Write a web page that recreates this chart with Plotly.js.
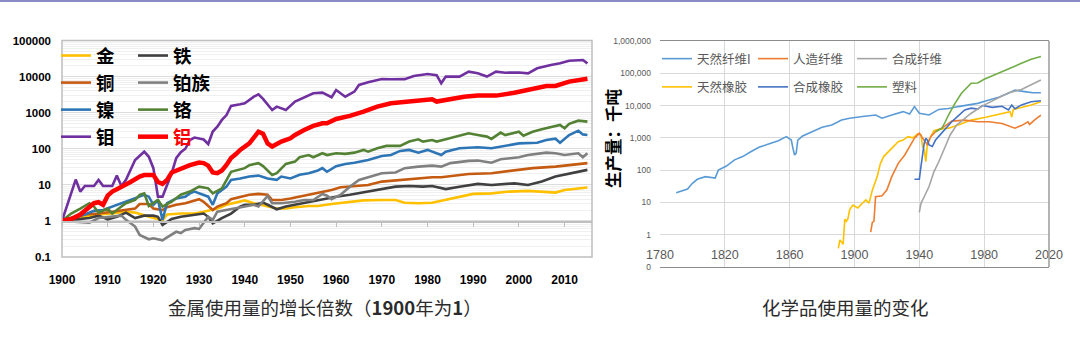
<!DOCTYPE html>
<html>
<head>
<meta charset="utf-8">
<script src="https://cdn.plot.ly/plotly-3.0.1.min.js"></script>
<style>html,body{margin:0;padding:0;background:#fff;}#chart{width:1080px;height:341px;}</style>
</head>
<body>
<div id="chart"></div>
<script>
// ---------- Left chart: metal use growth multiples (1900 = 1) ----------
const goldYears = [1900,1902,1905,1908,1911,1914,1916,1918,1920,1922,1923,1926,1929,1931,1934,1936,1938,1940,1942,1945,1947,1949,1951,1954,1956,1959,1962,1966,1970,1973,1975,1978,1981,1984,1987,1990,1994,1998,2002,2005,2008,2010,2013,2015];
const goldValues = [1,1.2,1.3,1.5,1.6,1.8,1.7,1.4,1.2,1.05,1.5,1.6,1.6,1.8,2.2,2.8,3.2,3.7,3.1,2.5,2.2,2.2,2.4,2.6,2.6,2.95,3.3,3.7,3.8,3.8,3.2,3.1,3.2,3.8,4.5,5.6,5.8,6.5,6.8,6.5,6.1,7.2,8,8.4];

const ironYears = [1900,1903,1906,1908,1910,1912,1914,1916,1918,1920,1921,1922,1924,1926,1929,1931,1932,1933,1935,1937,1939,1940,1942,1944,1945,1947,1949,1951,1953,1955,1956,1958,1960,1963,1967,1970,1973,1976,1979,1981,1984,1987,1991,1994,1999,2002,2005,2008,2010,2013,2015];
const ironValues = [1,1.07,1.2,1.4,1.1,1.3,1.7,1.2,1.4,1.4,1.3,0.77,1.13,1.3,1.5,1.6,1.3,0.86,1.2,1.6,2.5,2.8,2.8,3.2,2.8,2.1,2.5,2.8,3.2,3.6,3.9,4.2,4.7,5.3,6.5,7.6,8.9,9.3,8.9,9.3,7.6,8.9,10.6,9.9,11,9.9,12.3,17,19,23,26];

const copperYears = [1900,1902,1905,1908,1911,1914,1916,1917,1919,1920,1922,1923,1925,1927,1929,1930,1931,1933,1934,1936,1937,1939,1941,1943,1945,1946,1948,1950,1952,1955,1957,1959,1961,1964,1967,1970,1974,1977,1981,1983,1986,1989,1994,1999,2003,2008,2012,2015];
const copperValues = [1,1.2,1.5,1.6,1.8,2.0,2.2,2.95,2.95,2.2,2.0,2.4,2.8,3.1,3.6,4,3.4,2.0,2.5,3.1,4,4.7,5.3,5.6,5.3,3.8,3.8,4.2,4.7,5.6,6.5,7.2,8.6,9.3,9.9,12.3,13.7,14.6,16.2,16.2,17.6,20,21,25,29,32,35.5,40];

const pgmYears = [1900,1904,1906,1908,1910,1913,1914,1916,1917,1919,1920,1922,1923,1925,1926,1927,1929,1930,1932,1933,1934,1936,1938,1940,1942,1943,1945,1946,1948,1951,1953,1955,1957,1958,1959,1961,1963,1965,1967,1970,1973,1975,1978,1981,1983,1985,1989,1991,1994,1996,2000,2002,2006,2008,2010,2013,2014,2015];
const pgmValues = [1,0.96,0.9,1.2,1.3,1.4,1.07,0.7,0.41,0.31,0.33,0.29,0.35,0.5,0.46,0.56,0.63,0.6,1.3,1.07,1.8,2.0,2.2,2.5,2.8,2.5,4.9,3.1,3.1,3.4,3.8,3.8,5.6,5.0,4.0,5.3,8.9,13.7,16.2,21,22,29,32,34,32,40,46,47,41,51,58,67,78,75,67,75,58,75];

const nickelYears = [1900,1902,1905,1907,1909,1911,1913,1914,1916,1918,1919,1920,1921,1922,1923,1925,1927,1928,1929,1932,1933,1934,1936,1937,1939,1941,1943,1945,1947,1948,1950,1952,1954,1956,1957,1958,1960,1962,1964,1967,1970,1972,1974,1976,1978,1980,1983,1984,1987,1991,1994,1997,2000,2004,2006,2008,2009,2011,2013,2014,2015];
const nickelValues = [1,1.2,1.5,1.9,2.0,2.5,3.1,3.4,4.2,5.3,4.7,2.8,3.8,1.07,3.1,4.2,4.7,5.8,6.5,4.7,2.8,5.8,8.9,13.7,15,17,18,15,13.7,17,15,19,21,25,29,23,33,38,41,49,63,67,87,93,78,93,67,83,103,110,103,120,141,147,175,190,147,240,317,250,240];

const chromiumYears = [1900,1902,1904,1906,1907,1908,1910,1911,1913,1914,1916,1917,1918,1919,1921,1922,1924,1926,1928,1930,1932,1933,1935,1936,1937,1940,1941,1943,1944,1946,1947,1949,1951,1952,1954,1955,1956,1957,1958,1960,1962,1964,1966,1967,1969,1971,1974,1976,1978,1979,1981,1982,1984,1986,1989,1991,1993,1994,1996,1997,1999,2000,2001,2003,2005,2008,2009,2010,2011,2013,2015];
const chromiumValues = [1,1.6,2.2,3.1,2.5,1.7,2.2,1.6,2.5,3.1,3.8,5.3,5.8,2.6,3.8,2.5,3.4,5.3,6.5,8.9,8,5.8,8,13.7,23,29,35,40,33,18.7,21,38,44,58,67,58,67,75,67,75,72,78,93,83,103,120,120,158,183,158,175,158,183,217,268,240,217,187,280,240,280,297,230,297,345,410,455,370,490,600,565];

const molyYears = [1900,1903,1904,1905,1907,1908,1909,1911,1912,1913,1914,1916,1918,1919,1920,1921,1922,1924,1925,1926,1927,1928,1929,1931,1932,1933,1934,1935,1936,1937,1939,1940,1942,1943,1944,1945,1946,1947,1949,1951,1953,1955,1957,1958,1959,1960,1962,1964,1965,1967,1970,1972,1975,1977,1980,1982,1983,1984,1987,1989,1991,1993,1995,1997,2000,2002,2004,2007,2009,2011,2013,2014,2015];
const molyValues = [1,14,6.5,9.3,9.3,13.7,9.3,9.3,18,9.3,13.7,49,83,60,29,4.7,4.7,21,55,80,100,175,204,180,135,300,410,630,860,1540,1700,1820,2770,3220,2400,1700,1180,1470,1180,2030,2680,3440,3600,3100,2680,4240,2770,3830,5860,6950,8530,8400,8500,10400,11800,11000,6500,10000,10000,13700,12300,10000,13700,12800,13000,12300,17000,21000,23300,27600,27600,28800,23300];

const aluminumYears = [1900,1902,1904,1906,1907,1908,1909,1910,1911,1912,1914,1915,1917,1918,1920,1921,1922,1923,1924,1926,1928,1930,1931,1932,1933,1934,1935,1936,1937,1938,1939,1941,1942,1943,1944,1945,1946,1948,1950,1951,1953,1955,1957,1958,1960,1963,1966,1969,1972,1975,1978,1981,1982,1985,1988,1991,1995,1999,2002,2006,2008,2011,2015];
const aluminumValues = [1,1.13,1.5,2.3,3.1,3.3,2.8,5,6.5,7.5,10,12,17,18.7,18.7,12,10.6,13.7,22,28,35,41.5,40,34,22,21,25,35.5,55,70,93,141,200,297,260,140,115,158,195,240,330,430,510,510,670,815,1070,1470,1820,1950,2240,2350,2030,2350,2770,2970,2970,3570,4240,5490,5490,7240,8760];

const metalNames = ['金','铁','铜','铂族','镍','铬','钼','铝'];
const leftYTicks = [0.1,1,10,100,1000,10000,100000];
const leftYTickText = ['0.1','1','10','100','1000','10000','100000'];
const leftXTicks = [1900,1910,1920,1930,1940,1950,1960,1970,1980,1990,2000,2010];

// ---------- Right chart: chemical production (thousand tonnes) ----------
const natFiberYears = [1790,1797,1800,1803,1808,1814,1816,1821,1826,1831,1836,1841,1847,1853,1858,1861,1862,1863,1864,1865,1868,1874,1880,1886,1892,1897,1903,1905,1913,1917,1923,1930,1934,1937,1940,1946,1952,1958,1964,1970,1976,1983,1989,1995,1999,2005,2010,2015];
const natFiberValues = [20,26,39,52,63,57,100,134,208,263,372,510,645,810,1090,855,480,295,330,855,1150,1550,2130,2500,3550,4050,4300,4570,5100,4050,5100,6500,5500,9300,5800,5100,7600,8100,9300,10400,11700,14800,18000,24000,30000,27000,25000,25000];

const rayonYears = [1910,1911,1912,1913,1917,1920,1923,1927,1931,1934,1937,1940,1943,1945,1947,1950,1956,1960,1968,1976,1983,1991,1999,2003,2007,2008,2011,2015];
const rayonValues = [1.2,2.4,2.6,15,16,24.5,63,162,295,540,980,1380,855,600,1090,1550,2340,3300,3550,3150,3150,2800,2000,2400,3150,2600,3550,5100];

const synFiberYears = [1940,1941,1943,1944,1946,1949,1952,1956,1959,1963,1967,1972,1979,1987,1995,2003,2009,2015];
const synFiberValues = [4.9,9.4,15,19,31,89,182,540,1230,2500,3700,5800,9800,15400,25000,31600,43500,62000];

const natRubberYears = [1890,1891,1892,1893,1894,1895,1896,1897,1899,1902,1905,1907,1909,1911,1914,1916,1918,1921,1924,1927,1930,1933,1936,1939,1941,1942,1943,1944,1945,1947,1949,1952,1958,1964,1972,1981,1987,1993,1996,1997,1998,2003,2009,2015];
const natRubberValues = [0.38,0.69,0.6,0.5,3,2.6,3.2,5.9,8.3,6.7,9.6,12,9.5,24,63,162,263,372,540,760,855,1090,1000,1320,1250,540,430,183,700,1090,1660,1850,2000,2500,3550,4340,5100,5800,6500,4400,7600,8700,10400,13200];

const synRubberYears = [1937,1940,1941,1943,1944,1945,1946,1948,1950,1952,1954,1957,1960,1964,1968,1972,1976,1979,1985,1991,1995,1997,1999,2003,2009,2015];
const synRubberValues = [52,52,129,680,980,850,600,540,855,1150,1450,2130,3150,4800,7300,8300,7800,10000,8800,9500,7300,10300,8000,10500,13200,14100];

const plasticYears = [1950,1954,1956,1958,1962,1966,1972,1976,1980,1987,1995,2003,2009,2015];
const plasticValues = [1550,2000,3150,5100,11700,24000,49000,50000,65000,93000,142000,204000,271000,330000];

const chemNames = ['天然纤维I','人造纤维','合成纤维','天然橡胶','合成橡胶','塑料'];
const rightYTicks = [0.1,1,10,100,1000,10000,100000,1000000];
const rightYTickText = ['0','1','10','100','1,000','10,000','100,000','1,000,000'];
const rightXTicks = [1780,1820,1860,1900,1940,1980,2020];

// ---------- build ----------
const W = 1080, H = 341;
const px = v => v / W;
const py = v => (H - v) / H;

function metal(name, xs, ys, color, width, legend) {
  return {type:'scatter', mode:'lines', name:name, x:xs, y:ys, xaxis:'x', yaxis:'y',
    line:{color:color, width:width}, legend:legend, hoverinfo:'skip'};
}
function chem(name, xs, ys, color, legend) {
  return {type:'scatter', mode:'lines', name:name, x:xs, y:ys, xaxis:'x2', yaxis:'y2',
    line:{color:color, width:1.6}, legend:legend, legendgroup:name, hoverinfo:'skip'};
}

const traces = [
  metal(metalNames[0], goldYears, goldValues, '#FFC000', 2.6, 'legend'),
  metal(metalNames[1], ironYears, ironValues, '#404040', 2.6, 'legend2'),
  metal(metalNames[2], copperYears, copperValues, '#C55A11', 2.6, 'legend'),
  metal(metalNames[3], pgmYears, pgmValues, '#808080', 2.6, 'legend2'),
  metal(metalNames[4], nickelYears, nickelValues, '#2E75B6', 2.6, 'legend'),
  metal(metalNames[5], chromiumYears, chromiumValues, '#548235', 2.6, 'legend2'),
  metal(metalNames[6], molyYears, molyValues, '#7030A0', 2.6, 'legend'),
  metal('<span style="color:#FF0000">' + metalNames[7] + '</span>', aluminumYears, aluminumValues, '#FF0000', 4.5, 'legend2'),
  chem(chemNames[0], natFiberYears, natFiberValues, '#5B9BD5', 'legend3'),
  chem(chemNames[3], natRubberYears, natRubberValues, '#FFC000', 'legend3'),
  chem(chemNames[1], rayonYears, rayonValues, '#ED7D31', 'legend4'),
  chem(chemNames[4], synRubberYears, synRubberValues, '#4472C4', 'legend4'),
  chem(chemNames[2], synFiberYears, synFiberValues, '#A5A5A5', 'legend5'),
  chem(chemNames[5], plasticYears, plasticValues, '#70AD47', 'legend5')
];

const minorLog = [];
[-1,0,1,2,3,4,5].forEach(e => { for (let k = 2; k <= 9; k++) minorLog.push(k * Math.pow(10, e)); });

const bigLegend = (x) => ({x:x, y:py(37), xanchor:'left', yanchor:'top', bgcolor:'rgba(0,0,0,0)',
  font:{family:'Noto Sans CJK SC', size:18.5, color:'#000000', weight:'bold'}, itemwidth:30, tracegroupgap:0,
  orientation:'v'});
const smallLegend = (x) => ({x:x, y:py(44), xanchor:'left', yanchor:'top', bgcolor:'rgba(0,0,0,0)',
  font:{family:'Noto Sans CJK SC', size:12.5, color:'#595959'}, itemwidth:30, tracegroupgap:9,
  orientation:'v'});

const layout = {
  width: W, height: H,
  margin: {l:0, r:0, t:0, b:0},
  paper_bgcolor: '#ffffff', plot_bgcolor: '#ffffff',
  showlegend: true,
  xaxis: {domain:[px(62), px(592)], range:[1900, 2016], anchor:'free', position: py(221),
    tickmode:'array', tickvals:leftXTicks, ticktext:leftXTicks.map(String),
    ticks:'outside', ticklen:4, tickcolor:'#BFBFBF', showline:true, linecolor:'#BFBFBF', linewidth:1.5,
    showgrid:false, zeroline:false, ticklabelstandoff:43,
    tickfont:{family:'Liberation Sans, Arial', size:12, color:'#000', weight:'bold'}},
  yaxis: {domain:[py(257), py(40.5)], type:'log', range:[-1, 5], anchor:'x',
    tickmode:'array', tickvals:leftYTicks, ticktext:leftYTickText, ticks:'', ticklabelstandoff:10,
    showgrid:true, gridcolor:'#DCDCDC', gridwidth:1, zeroline:false, showline:false,
    minor:{tickmode:'array', tickvals:minorLog, showgrid:true, gridcolor:'#F0F0F0', ticks:''},
    tickfont:{family:'Liberation Sans, Arial', size:11.5, color:'#000', weight:'bold'}},
  xaxis2: {domain:[px(660), px(1049)], range:[1780, 2020], anchor:'y2',
    tickmode:'array', tickvals:rightXTicks, ticktext:rightXTicks.map(String), ticks:'',
    showgrid:true, gridcolor:'#D9D9D9', zeroline:false, showline:true, mirror:true,
    linecolor:'#8C8C8C', linewidth:1.3, ticklabelstandoff:-24,
    tickfont:{family:'Liberation Sans, Arial', size:12.5, color:'#595959'}},
  yaxis2: {domain:[py(267), py(41)], type:'log', range:[-1, 6], anchor:'x2',
    tickmode:'array', tickvals:rightYTicks, ticktext:rightYTickText, ticks:'', ticklabelstandoff:8,
    showgrid:true, gridcolor:'#D9D9D9', zeroline:false, showline:false,
    tickfont:{family:'Liberation Sans, Arial', size:8.5, color:'#595959'}},
  legend: bigLegend(px(56)),
  legend2: bigLegend(px(133)),
  legend3: smallLegend(px(657)),
  legend4: smallLegend(px(753)),
  legend5: smallLegend(px(852)),
  shapes: [
    {type:'rect', xref:'x domain', yref:'y domain', x0:0, x1:1, y0:0, y1:1, line:{color:'#BFBFBF', width:1.5}, fillcolor:'rgba(0,0,0,0)', layer:'above'},
    {type:'line', xref:'x2 domain', yref:'y2 domain', x0:1, x1:1, y0:0, y1:1, line:{color:'#8C8C8C', width:1.3}},
    {type:'line', xref:'paper', yref:'paper', x0:0, x1:1, y0:1 - 1/H, y1:1 - 1/H, line:{color:'#8A8AC8', width:2}}
  ],
  annotations: [
    {xref:'paper', yref:'paper', x:px(325), y:py(307), showarrow:false, xanchor:'center', yanchor:'middle',
     text:'金属使用量的增长倍数（<b>1900</b>年为<b>1</b>）',
     font:{family:'Noto Sans CJK SC', size:18.5, color:'#2b2b2b'}},
    {xref:'paper', yref:'paper', x:px(845), y:py(307), showarrow:false, xanchor:'center', yanchor:'middle',
     text:'化学品使用量的变化',
     font:{family:'Noto Sans CJK SC', size:18.5, color:'#2b2b2b'}},
    {xref:'paper', yref:'paper', x:px(613), y:py(138), showarrow:false, xanchor:'center', yanchor:'middle',
     textangle:-90, text:'生产量：千吨',
     font:{family:'Noto Sans CJK SC', size:16.5, color:'#000', weight:'bold'}}
  ]
};

Plotly.newPlot('chart', traces, layout, {staticPlot:true, displayModeBar:false});
</script>
</body>
</html>
